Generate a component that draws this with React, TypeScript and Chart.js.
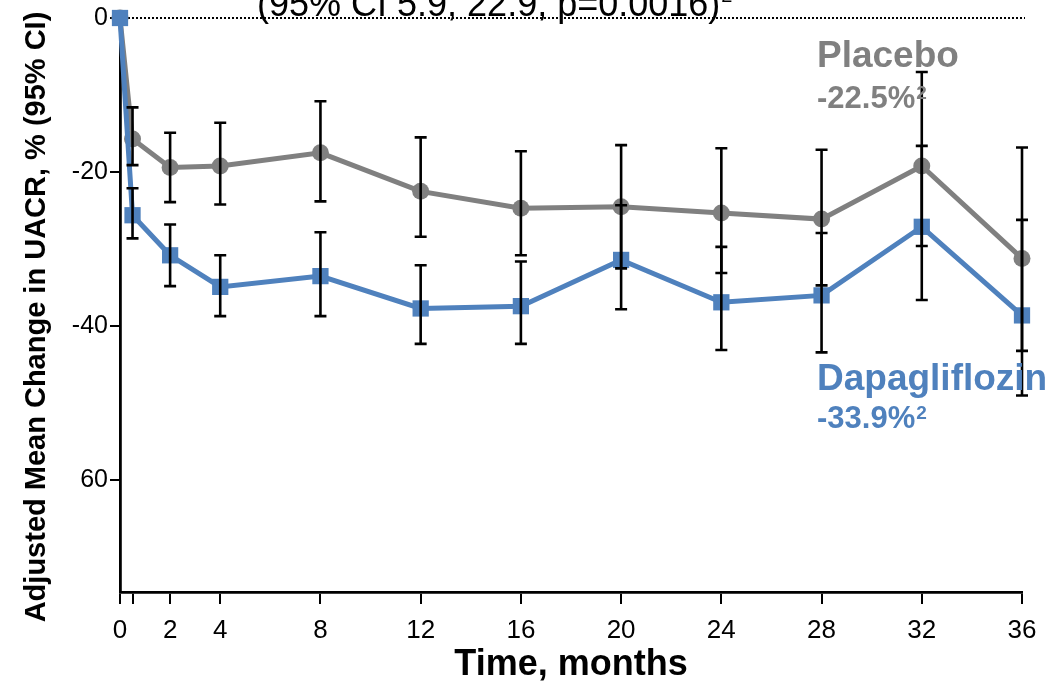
import React, { useEffect, useRef } from "react";
import { Chart, registerables } from "chart.js";

Chart.register(...registerables);

// ---- data ----
const months = [0, 0.5, 2, 4, 8, 12, 16, 20, 24, 28, 32, 36];
const xTickValues = [0, 0.5, 2, 4, 8, 12, 16, 20, 24, 28, 32, 36];
const xTickLabels = ["0", "", "2", "4", "8", "12", "16", "20", "24", "28", "32", "36"];
const yTickValues = [0, -20, -40, -60];
const yTickLabels = ["0", "-20", "-40", "60"];

const placebo = [0, -15.7, -19.4, -19.2, -17.5, -22.5, -24.7, -24.5, -25.3, -26.1, -19.2, -31.2];
const placeboUpper = [null, -11.6, -14.9, -13.6, -10.8, -15.5, -17.3, -16.5, -16.9, -17.1, -7.0, -16.8];
const placeboLower = [null, -19.1, -23.9, -24.2, -23.8, -28.4, -30.8, -32.5, -33.1, -34.7, -29.6, -43.2];

const dapa = [0, -25.6, -30.8, -34.9, -33.5, -37.7, -37.4, -31.4, -36.9, -36.0, -27.1, -38.6];
const dapaUpper = [null, -22.1, -26.8, -30.8, -27.8, -32.1, -31.6, -24.3, -29.7, -27.9, -16.6, -26.2];
const dapaLower = [null, -28.6, -34.8, -38.7, -38.7, -42.3, -42.3, -37.8, -43.1, -43.4, -36.6, -49.0];

const topNote = "(95% CI 5.9, 22.9, p=0.0016)";
const placeboName = "Placebo";
const placeboChange = "-22.5%";
const dapaName = "Dapagliflozin";
const dapaChange = "-33.9%";
const yTitle = "Adjusted Mean Change in UACR, % (95% CI)";
const xTitle = "Time, months";

const GRAY = "rgb(128,128,128)";
const BLUE = "rgb(79,129,189)";
const FONT = '"Liberation Sans", Arial, Helvetica, sans-serif';

function textWithSup(ctx: CanvasRenderingContext2D, text: string, x: number, y: number, font: string, supFont: string, raise: number, color: string) {
  ctx.fillStyle = color;
  ctx.font = font;
  ctx.textAlign = "left";
  ctx.textBaseline = "alphabetic";
  ctx.fillText(text, x, y);
  const w = ctx.measureText(text).width;
  ctx.font = supFont;
  ctx.fillText("2", x + w + 1, y - raise);
}

const overlayPlugin = {
  id: "overlay",
  beforeDatasetsDraw(chart: any) {
    const { ctx, chartArea, scales } = chart;
    const y0 = scales.y.getPixelForValue(0);
    ctx.save();
    ctx.strokeStyle = "#000";
    ctx.lineWidth = 2;
    ctx.setLineDash([2, 2]);
    ctx.beginPath();
    ctx.moveTo(chartArea.left, y0);
    ctx.lineTo(chartArea.right + 3, y0);
    ctx.stroke();
    ctx.restore();
  },
  afterDatasetsDraw(chart: any) {
    const { ctx, scales } = chart;
    const sets = [
      { idx: 1, up: placeboUpper, lo: placeboLower },
      { idx: 0, up: dapaUpper, lo: dapaLower },
    ];
    ctx.save();
    ctx.strokeStyle = "#000";
    ctx.lineWidth = 2.6;
    ctx.lineCap = "butt";
    for (const s of sets) {
      const meta = chart.getDatasetMeta(s.idx);
      meta.data.forEach((pt: any, j: number) => {
        const u = s.up[j];
        const l = s.lo[j];
        if (u == null || l == null) return;
        const x = pt.x;
        const yt = scales.y.getPixelForValue(u);
        const yb = scales.y.getPixelForValue(l);
        ctx.beginPath();
        ctx.moveTo(x, yt);
        ctx.lineTo(x, yb);
        ctx.moveTo(x - 6, yt);
        ctx.lineTo(x + 6, yt);
        ctx.moveTo(x - 6, yb);
        ctx.lineTo(x + 6, yb);
        ctx.stroke();
      });
    }
    ctx.restore();
  },
  afterDraw(chart: any) {
    const { ctx } = chart;
    ctx.save();
    // rotated y-axis title
    ctx.save();
    ctx.translate(37, 317);
    ctx.rotate(-Math.PI / 2);
    ctx.font = `bold 29px ${FONT}`;
    ctx.fillStyle = "#000";
    ctx.textAlign = "center";
    ctx.textBaseline = "middle";
    ctx.fillText(yTitle, 0, 0);
    ctx.restore();

    textWithSup(ctx, topNote, 257, 16, `36px ${FONT}`, `20px ${FONT}`, 14, "#000");
    ctx.font = `bold 37px ${FONT}`;
    ctx.fillStyle = GRAY;
    ctx.fillText(placeboName, 817, 67);
    textWithSup(ctx, placeboChange, 817, 108, `bold 31px ${FONT}`, `bold 19px ${FONT}`, 9, GRAY);
    ctx.font = `bold 37px ${FONT}`;
    ctx.fillStyle = BLUE;
    ctx.fillText(dapaName, 817, 390);
    textWithSup(ctx, dapaChange, 817, 428, `bold 31px ${FONT}`, `bold 19px ${FONT}`, 9, BLUE);
    ctx.restore();
  },
};

export default function App() {
  const ref = useRef<HTMLCanvasElement | null>(null);

  useEffect(() => {
    document.body.style.margin = "0";
    const canvas = ref.current;
    if (!canvas) return;
    const chart = new Chart(canvas, {
      type: "line",
      data: {
        datasets: [
          {
            label: dapaName,
            data: months.map((m, i) => ({ x: m, y: dapa[i] })),
            borderColor: BLUE,
            backgroundColor: BLUE,
            borderWidth: 5,
            pointStyle: "rect",
            pointRadius: 11.5,
            pointBorderWidth: 0,
            tension: 0,
            clip: false,
            order: 0,
          },
          {
            label: placeboName,
            data: months.map((m, i) => ({ x: m, y: placebo[i] })),
            borderColor: GRAY,
            backgroundColor: GRAY,
            borderWidth: 5,
            pointStyle: "circle",
            pointRadius: 8.5,
            pointBorderWidth: 0,
            tension: 0,
            clip: false,
            order: 1,
          },
        ],
      },
      options: {
        responsive: false,
        animation: false,
        layout: { padding: { top: 18, right: 29, left: 0, bottom: 0 } },
        plugins: { legend: { display: false }, tooltip: { enabled: false }, title: { display: false } },
        scales: {
          x: {
            type: "linear",
            min: 0,
            max: 36,
            afterBuildTicks: (scale: any) => {
              scale.ticks = xTickValues.map((v) => ({ value: v }));
            },
            afterFit: (scale: any) => {
              scale.height = 90;
            },
            ticks: {
              autoSkip: false,
              maxRotation: 0,
              padding: 11,
              color: "#000",
              font: { family: FONT, size: 26 },
              callback: (value: any) => {
                const i = xTickValues.indexOf(Number(value));
                return i >= 0 ? xTickLabels[i] : "";
              },
            },
            grid: { display: true, drawOnChartArea: false, drawTicks: true, tickLength: 12, color: "#000", lineWidth: 2 },
            border: { display: true, color: "#000", width: 2.8 },
            title: {
              display: true,
              text: xTitle,
              color: "#000",
              font: { family: FONT, size: 36, weight: "bold" },
              padding: { top: 0, bottom: -5 },
            },
          },
          y: {
            type: "linear",
            min: -74.5,
            max: 0,
            afterBuildTicks: (scale: any) => {
              scale.ticks = yTickValues.map((v) => ({ value: v }));
            },
            afterFit: (scale: any) => {
              scale.width = 120;
            },
            ticks: {
              padding: 2,
              color: "#000",
              font: { family: FONT, size: 25 },
              callback: (value: any) => {
                const i = yTickValues.indexOf(Number(value));
                return i >= 0 ? yTickLabels[i] : "";
              },
            },
            grid: { display: true, drawOnChartArea: false, drawTicks: true, tickLength: 10, color: "#000", lineWidth: 2 },
            border: { display: true, color: "#000", width: 2.8 },
            title: { display: false },
          },
        },
      },
      plugins: [overlayPlugin],
    } as any);
    return () => chart.destroy();
  }, []);

  return <canvas ref={ref} width={1051} height={682} style={{ display: "block" }} />;
}
